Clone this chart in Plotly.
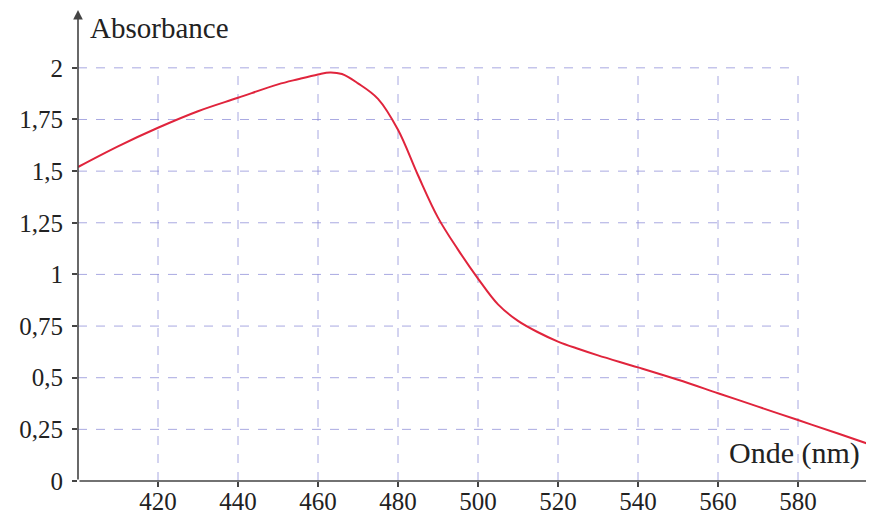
import plotly.graph_objects as go

# Data
wavelength_nm = [400, 410, 420, 430, 440, 450, 455, 460, 463, 466, 470, 475, 480, 485, 490, 495, 500, 505, 510, 515, 520, 525, 530, 540, 550, 560, 570, 580, 590, 599]
absorbance = [1.52, 1.62, 1.71, 1.79, 1.855, 1.92, 1.945, 1.968, 1.978, 1.97, 1.925, 1.85, 1.70, 1.48, 1.275, 1.12, 0.98, 0.855, 0.775, 0.72, 0.675, 0.64, 0.608, 0.55, 0.49, 0.425, 0.36, 0.295, 0.23, 0.17]

x_ticks = [420, 440, 460, 480, 500, 520, 540, 560, 580]
x_ticklabels = ["420", "440", "460", "480", "500", "520", "540", "560", "580"]
y_ticks = [0, 0.25, 0.5, 0.75, 1, 1.25, 1.5, 1.75, 2]
y_ticklabels = ["0", "0,25", "0,5", "0,75", "1", "1,25", "1,5", "1,75", "2"]

X_MIN, X_MAX = 400, 599
Y_MIN, Y_MAX = 0, 2.28

grid_color = "rgba(140,140,215,0.75)"
axis_color = "#444444"
font_family = "Liberation Serif, Times New Roman, serif"

fig = go.Figure()
fig.add_trace(go.Scatter(
    x=wavelength_nm, y=absorbance, mode="lines",
    line=dict(color="#e0243c", width=2, shape="spline", smoothing=1.0),
    showlegend=False, hoverinfo="skip"))

shapes = []
for xv in x_ticks:
    shapes.append(dict(type="line", xref="x", yref="y", x0=xv, x1=xv, y0=0, y1=max(y_ticks),
                       line=dict(color=grid_color, width=1, dash="dash"), layer="below"))
for yv in y_ticks[1:]:
    shapes.append(dict(type="line", xref="x", yref="y", x0=X_MIN, x1=max(x_ticks), y0=yv, y1=yv,
                       line=dict(color=grid_color, width=1, dash="dash"), layer="below"))

annotations = [
    dict(x=X_MIN, y=Y_MAX, xref="x", yref="y", ax=X_MIN, ay=0, axref="x", ayref="y",
         showarrow=True, arrowhead=2, arrowsize=1.2, arrowwidth=1.6, arrowcolor=axis_color, text=""),
    dict(x=X_MAX + 0.5, y=0, xref="x", yref="y", ax=X_MIN, ay=0, axref="x", ayref="y",
         showarrow=True, arrowhead=2, arrowsize=1.2, arrowwidth=1.6, arrowcolor=axis_color, text=""),
    dict(x=X_MIN + 2.5, y=Y_MAX - 0.085, xref="x", yref="y", text="Absorbance", showarrow=False,
         xanchor="left", yanchor="middle", font=dict(family=font_family, size=29, color="#222")),
    dict(x=X_MAX - 3, y=0.045, xref="x", yref="y", text="Onde (nm)", showarrow=False,
         xanchor="right", yanchor="bottom", font=dict(family=font_family, size=30, color="#222")),
]

fig.update_layout(
    width=866, height=509,
    margin=dict(l=70, r=0, t=2, b=36, autoexpand=False),
    paper_bgcolor="white", plot_bgcolor="white",
    shapes=shapes, annotations=annotations,
    font=dict(family=font_family, size=25, color="#222"),
    xaxis=dict(range=[X_MIN, X_MAX], tickvals=x_ticks, ticktext=x_ticklabels,
               showgrid=False, zeroline=False, showline=False, automargin=False,
               ticks="outside", ticklen=5, tickwidth=1.5, tickcolor=axis_color,
               ticklabelstandoff=-7),
    yaxis=dict(range=[Y_MIN, Y_MAX], tickvals=y_ticks, ticktext=y_ticklabels,
               showgrid=False, zeroline=False, showline=False, automargin=False,
               ticks="outside", ticklen=5, tickwidth=1.5, tickcolor=axis_color,
               ticklabelstandoff=4),
)

fig.write_html("out.html")
